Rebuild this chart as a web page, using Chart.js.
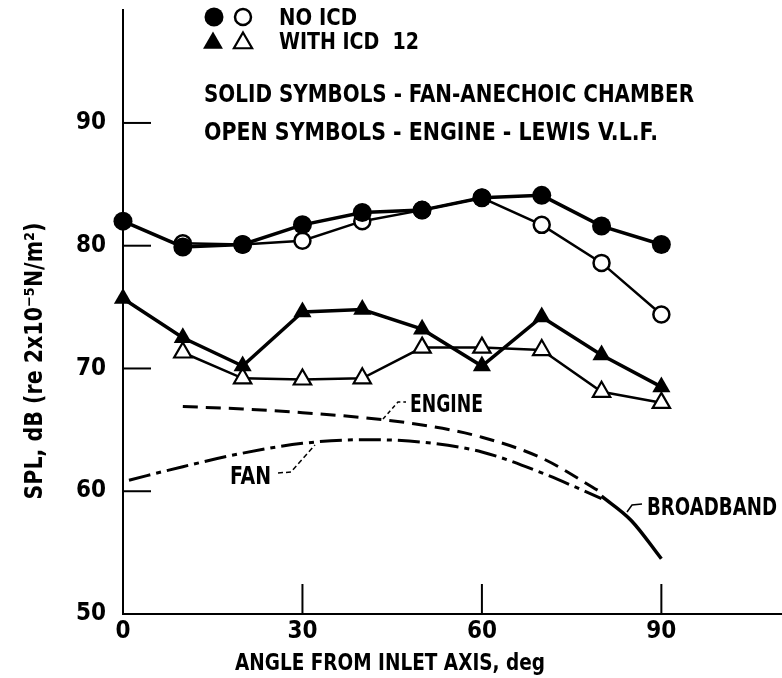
<!DOCTYPE html>
<html>
<head>
<meta charset="utf-8">
<script src="https://cdn.jsdelivr.net/npm/chart.js@4/dist/chart.umd.min.js"></script>
<style>
html, body { margin: 0; padding: 0; background: #fff; }
#wrap { width: 782px; height: 678px; }
</style>
</head>
<body>
<div id="wrap"><canvas id="splChart" width="782" height="678"></canvas></div>
<script>
// angles (deg) and measured SPL (dB)
const angles = [0, 10, 20, 30, 40, 50, 60, 70, 80, 90];
const fanNoIcd = [82.0, 79.9, 80.1, 81.7, 82.7, 82.9, 83.9, 84.1, 81.6, 80.1];
const engineNoIcd = [null, 80.2, 80.1, 80.4, 82.0, 82.9, 83.9, 81.7, 78.6, 74.4];
const fanIcd = [75.7, 72.5, 70.2, 74.6, 74.8, 73.2, 70.2, 74.2, 71.1, 68.5];
const engineIcd = [null, 71.3, 69.2, 69.1, 69.2, 71.7, 71.7, 71.5, 68.1, 67.2];

// broadband curves
const engineCurveX = [10, 20, 30, 40, 50, 60, 70, 80];
const engineCurve = [66.9, 66.7, 66.4, 66.0, 65.4, 64.4, 62.7, 59.9];
const fanCurveX = [1, 10, 20, 30, 40, 50, 60, 70, 80];
const fanCurve = [60.9, 62.0, 63.1, 63.9, 64.2, 64.0, 63.2, 61.5, 59.4];
const broadbandX = [80, 85, 90];
const broadband = [59.6, 57.6, 54.5];

const xTicks = [0, 30, 60, 90];
const yTicks = [50, 60, 70, 80, 90];

const FONT = '"Liberation Sans Narrow", "DejaVu Sans Condensed", Roboto, sans-serif';

const pts = (xs, ys) => xs.map((x, i) => ({x: x, y: ys[i]}));

// draw a text line by its cap-centre, squeezed to a width
function capText(ctx, txt, x, yc, size, width) {
    ctx.font = 'bold ' + size + 'px ' + FONT;
    ctx.textAlign = 'left';
    ctx.textBaseline = 'alphabetic';
    ctx.fillText(txt, x, yc + size * 0.36, width);
}

function triangle(ctx, x, y, r, filled) {
    ctx.beginPath();
    ctx.moveTo(x, y - r);
    ctx.lineTo(x + r * 0.866, y + r * 0.5);
    ctx.lineTo(x - r * 0.866, y + r * 0.5);
    ctx.closePath();
    if (filled) ctx.fill(); else { ctx.fillStyle = '#fff'; ctx.fill(); ctx.stroke(); ctx.fillStyle = '#000'; }
}

function leader(ctx, coords, dash) {
    ctx.save();
    ctx.lineWidth = 1.5;
    ctx.setLineDash(dash);
    ctx.beginPath();
    ctx.moveTo(coords[0], coords[1]);
    for (let i = 2; i < coords.length; i += 2) ctx.lineTo(coords[i], coords[i + 1]);
    ctx.stroke();
    ctx.restore();
}

const figureText = {
    id: 'figureText',
    beforeDatasetsDraw(chart) {
        const {ctx, scales: {x, y}} = chart;
        ctx.save();
        ctx.strokeStyle = '#000';
        ctx.lineWidth = 2;
        // tick marks point into the plot
        yTicks.slice(1).forEach(v => {
            const py = y.getPixelForValue(v);
            ctx.beginPath(); ctx.moveTo(x.left, py); ctx.lineTo(x.left + 28, py); ctx.stroke();
        });
        xTicks.slice(1).forEach(v => {
            const px = x.getPixelForValue(v);
            ctx.beginPath(); ctx.moveTo(px, y.bottom); ctx.lineTo(px, y.bottom - 30); ctx.stroke();
        });
        ctx.restore();
    },
    afterDraw(chart) {
        const {ctx} = chart;
        ctx.save();
        ctx.fillStyle = '#000';
        ctx.strokeStyle = '#000';

        // key
        ctx.beginPath(); ctx.arc(214, 17, 9.5, 0, Math.PI * 2); ctx.fill();
        ctx.lineWidth = 2.5;
        ctx.beginPath(); ctx.arc(243, 17, 8, 0, Math.PI * 2); ctx.stroke();
        triangle(ctx, 213, 43, 11.5, true);
        ctx.lineWidth = 2.2;
        triangle(ctx, 243, 43, 10.5, false);
        capText(ctx, 'NO ICD', 279, 17, 23, 78);
        capText(ctx, 'WITH ICD  12', 279, 41, 23, 140);
        capText(ctx, 'SOLID SYMBOLS - FAN-ANECHOIC CHAMBER', 204, 93, 25, 490);
        capText(ctx, 'OPEN SYMBOLS - ENGINE - LEWIS V.L.F.', 204, 131, 25, 454);

        // curve labels
        capText(ctx, 'ENGINE', 410, 403, 25, 73);
        leader(ctx, [383, 419, 398, 402, 406, 402], [4, 3]);
        capText(ctx, 'FAN', 230, 475, 25, 41);
        leader(ctx, [278, 473, 291, 472, 315, 445], [5, 3]);
        capText(ctx, 'BROADBAND', 647, 506, 24, 130);
        leader(ctx, [627, 512, 632, 505, 642, 504], []);

        // axis titles
        capText(ctx, 'ANGLE FROM INLET AXIS, deg', 235, 662, 23, 310);
        ctx.translate(35, 361);
        ctx.rotate(-Math.PI / 2);
        ctx.font = 'bold 25px ' + FONT;
        ctx.textAlign = 'center';
        ctx.textBaseline = 'middle';
        ctx.fillText('SPL, dB (re 2x10\u207B\u2075N/m\u00B2)', 0, 0, 277);
        ctx.restore();
    }
};

const ctx = document.getElementById('splChart').getContext('2d');
new Chart(ctx, {
    type: 'line',
    data: {
        datasets: [
            {
                label: 'No ICD, fan',
                data: pts(angles, fanNoIcd),
                borderColor: '#000', borderWidth: 3.5, clip: false,
                pointStyle: 'circle', pointRadius: 9.5, pointBorderWidth: 0,
                pointBackgroundColor: '#000'
            },
            {
                label: 'With ICD 12, fan',
                data: pts(angles, fanIcd),
                borderColor: '#000', borderWidth: 3.5, clip: false,
                pointStyle: 'triangle', pointRadius: 10.5, pointBorderWidth: 0,
                pointBackgroundColor: '#000'
            },
            {
                label: 'No ICD, engine',
                data: pts(angles, engineNoIcd),
                borderColor: '#000', borderWidth: 2.5, clip: false,
                pointStyle: 'circle', pointRadius: 8, pointBorderWidth: 2.5,
                pointBorderColor: '#000', pointBackgroundColor: '#fff'
            },
            {
                label: 'With ICD 12, engine',
                data: pts(angles, engineIcd),
                borderColor: '#000', borderWidth: 2.5, clip: false,
                pointStyle: 'triangle', pointRadius: 10, pointBorderWidth: 2.2,
                pointBorderColor: '#000', pointBackgroundColor: '#fff'
            },
            {
                label: 'Engine broadband',
                data: pts(engineCurveX, engineCurve),
                borderColor: '#000', borderWidth: 3, borderDash: [15, 8], clip: false,
                pointRadius: 0, cubicInterpolationMode: 'monotone'
            },
            {
                label: 'Fan broadband',
                data: pts(fanCurveX, fanCurve),
                borderColor: '#000', borderWidth: 3, borderDash: [22, 6, 5, 6], clip: false,
                pointRadius: 0, cubicInterpolationMode: 'monotone'
            },
            {
                label: 'Broadband',
                data: pts(broadbandX, broadband),
                borderColor: '#000', borderWidth: 3.5, clip: false,
                pointRadius: 0, cubicInterpolationMode: 'monotone'
            }
        ]
    },
    options: {
        responsive: false,
        animation: false,
        devicePixelRatio: 1,
        layout: {autoPadding: false, padding: {top: 10, right: 1, left: 0, bottom: 0}},
        plugins: {legend: {display: false}, tooltip: {enabled: false}},
        scales: {
            x: {
                type: 'linear', min: 0, max: 110,
                afterBuildTicks: s => { s.ticks = xTicks.map(v => ({value: v})); },
                afterFit: s => { s.height = 64; s.paddingLeft = 0; s.paddingRight = 0; },
                grid: {display: false, drawTicks: false},
                border: {display: true, color: '#000', width: 2},
                ticks: {color: '#000', padding: 3, maxRotation: 0, autoSkip: false,
                        font: {family: FONT, size: 24, weight: 'bold'}}
            },
            y: {
                type: 'linear', min: 50, max: 99.2,
                afterBuildTicks: s => { s.ticks = yTicks.map(v => ({value: v})); },
                afterFit: s => { s.width = 123; s.paddingTop = 0; s.paddingBottom = 0; },
                grid: {display: false, drawTicks: false},
                border: {display: true, color: '#000', width: 2},
                ticks: {color: '#000', padding: 17, autoSkip: false,
                        font: {family: FONT, size: 24, weight: 'bold'}}
            }
        }
    },
    plugins: [figureText]
});
</script>
</body>
</html>
